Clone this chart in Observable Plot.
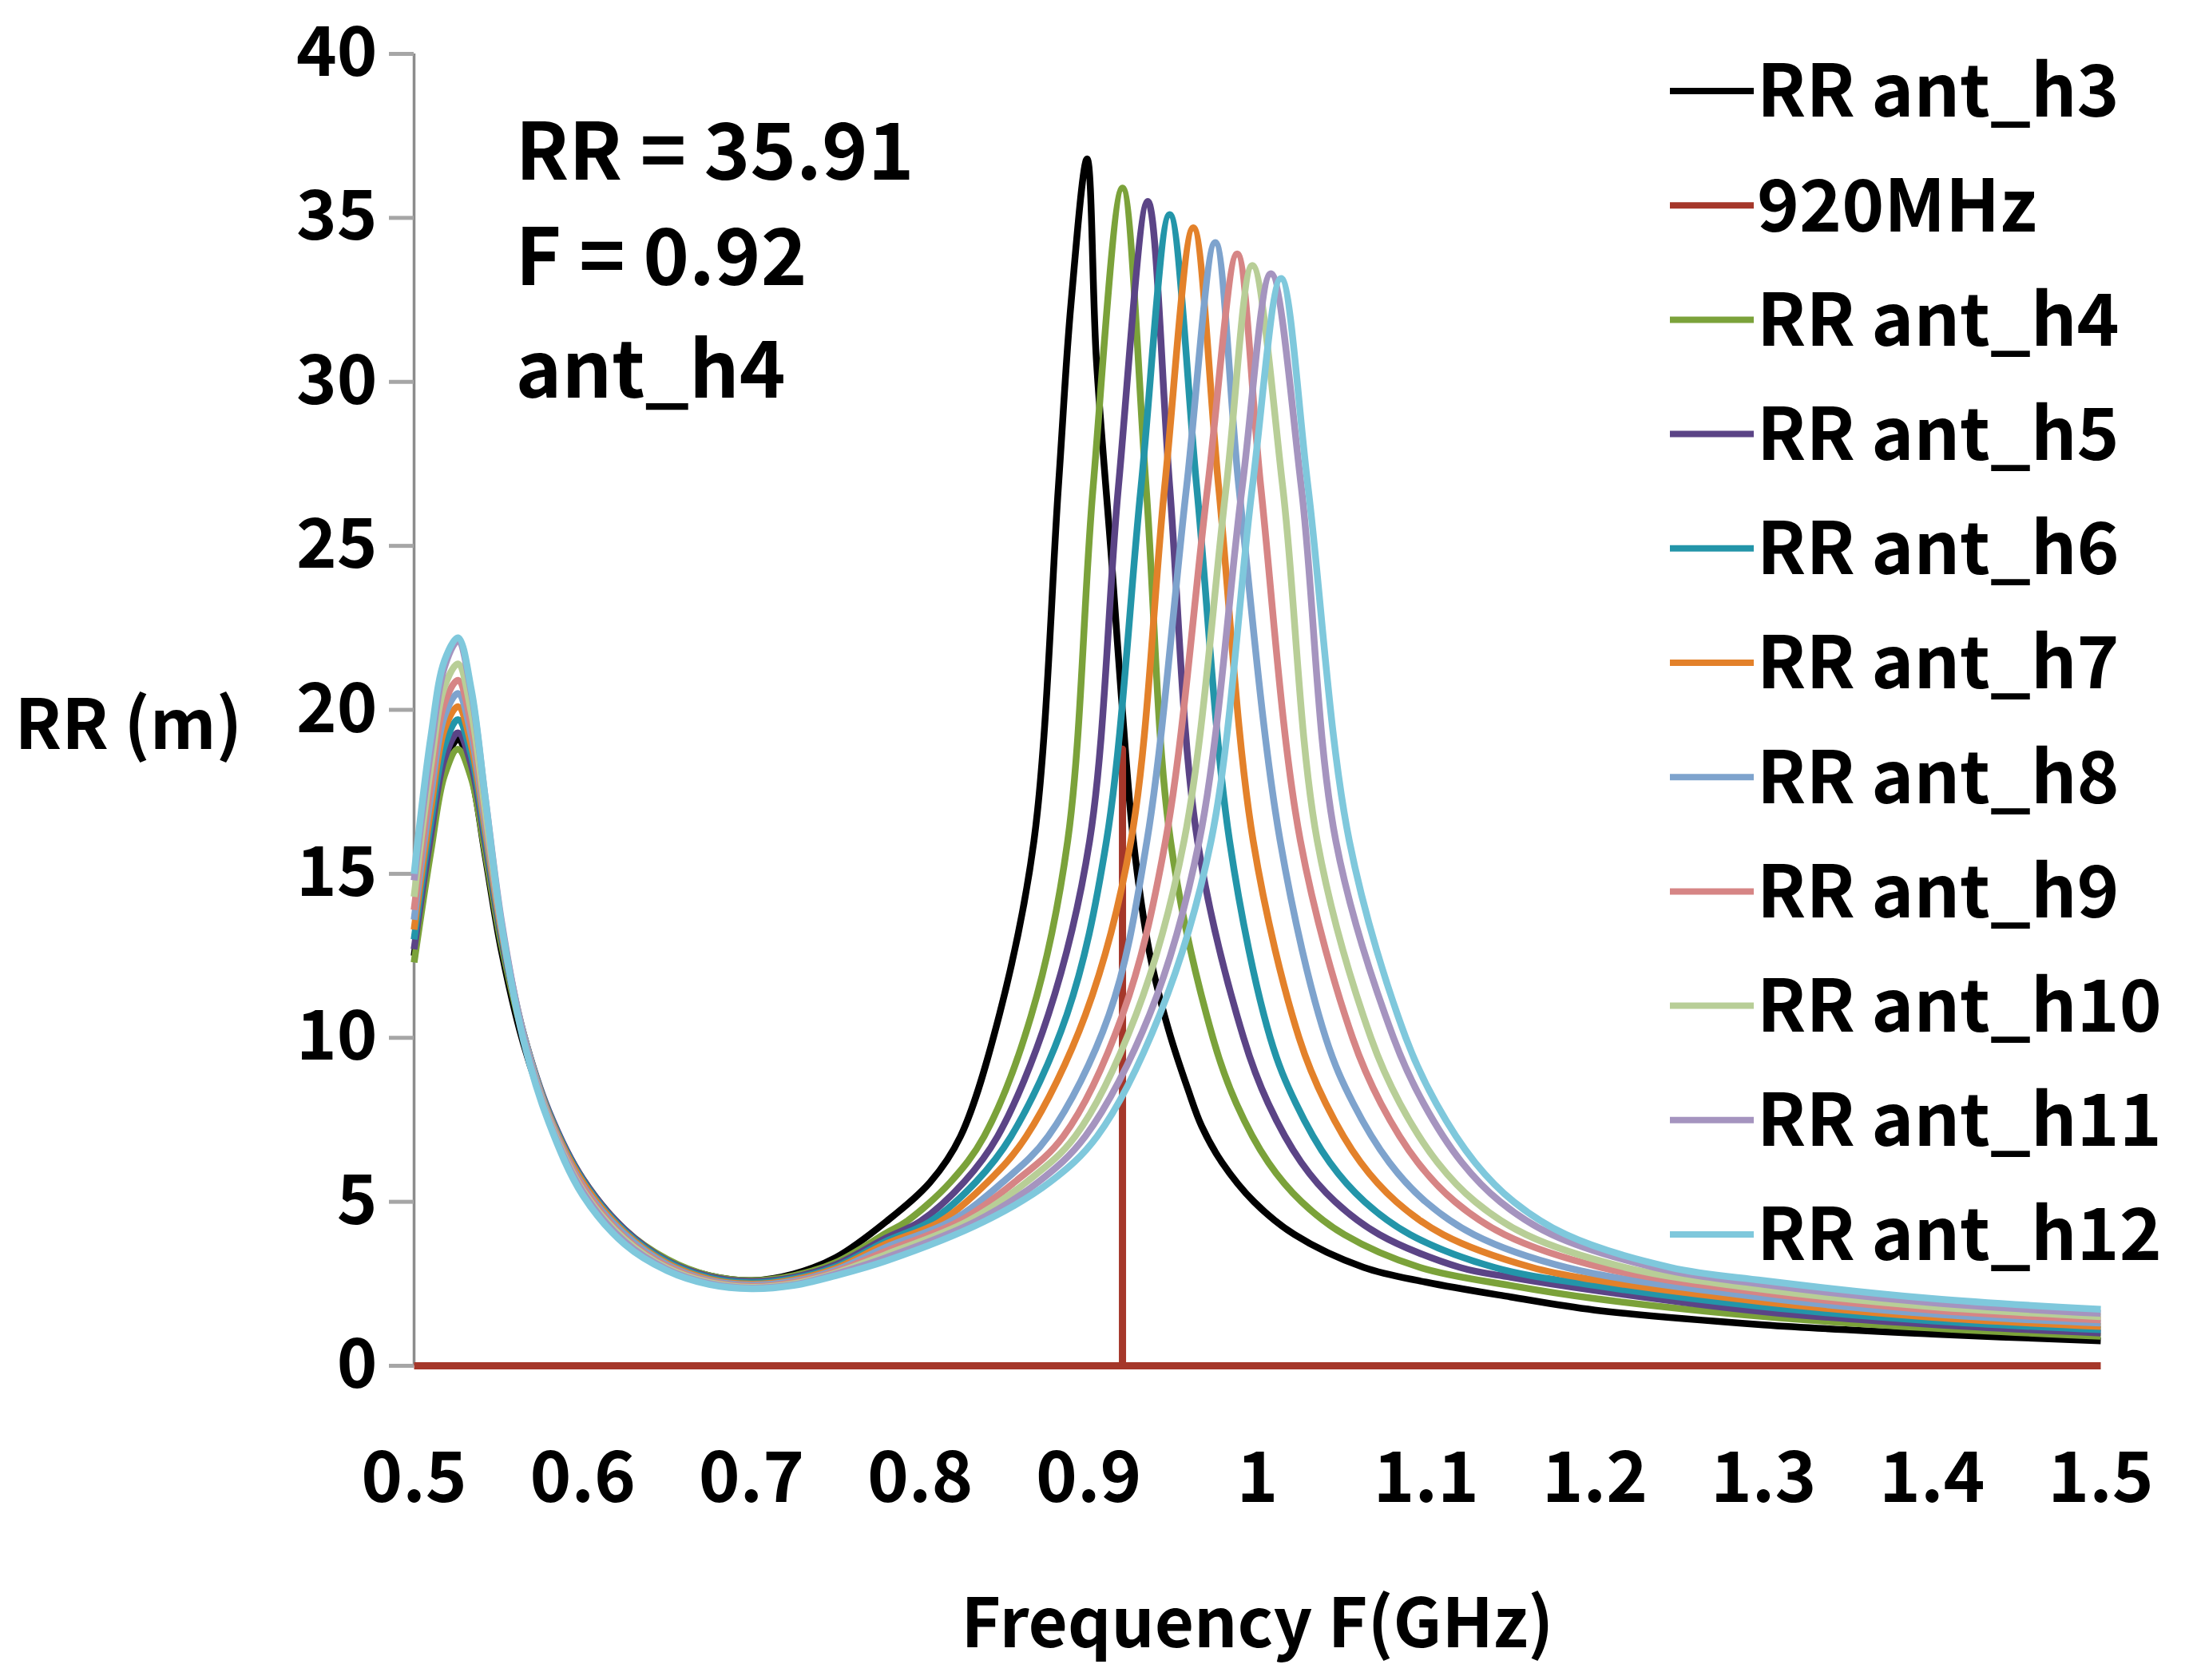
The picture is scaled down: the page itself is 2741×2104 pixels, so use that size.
<!DOCTYPE html>
<html>
<head>
<meta charset="utf-8">
<script src="https://cdn.jsdelivr.net/npm/d3@7"></script>
<script src="https://cdn.jsdelivr.net/npm/@observablehq/plot@0.6"></script>
<style>
  html, body { margin: 0; padding: 0; background: #ffffff; }
  #chart svg { display: block; }
</style>
</head>
<body>
<div id="chart"></div>
<script>
// ---------- data ----------
const seriesNames = ["RR ant_h3", "920MHz", "RR ant_h4", "RR ant_h5", "RR ant_h6", "RR ant_h7",
  "RR ant_h8", "RR ant_h9", "RR ant_h10", "RR ant_h11", "RR ant_h12"];
const seriesColors = ["#000000", "#a5372a", "#7ba23a", "#5b4486", "#2395a9", "#e3812a",
  "#7ea3cd", "#d68585", "#b8ce97", "#a594bf", "#7fc8dc"];

const xTicks = [0.5, 0.6, 0.7, 0.8, 0.9, 1.0, 1.1, 1.2, 1.3, 1.4, 1.5];
const xTickLabels = ["0.5", "0.6", "0.7", "0.8", "0.9", "1", "1.1", "1.2", "1.3", "1.4", "1.5"];
const yTicks = [0, 5, 10, 15, 20, 25, 30, 35, 40];

const annotationLines = ["RR = 35.91", "F = 0.92", "ant_h4"];

// shared low-frequency sample points (0.5 - 0.78 GHz)
const lowFreq = [0.500, 0.510, 0.518, 0.526, 0.534, 0.542, 0.552, 0.565, 0.580, 0.600, 0.625, 0.650, 0.675, 0.700, 0.725, 0.750, 0.780];

const rrLowH3  = [12.5, 16.0, 18.3, 19.1, 18.0, 15.6, 12.6, 9.8, 7.6, 5.6, 4.1, 3.2, 2.75, 2.6, 2.8, 3.3, 4.4];
const rrLowH4  = [12.3, 15.7, 18.0, 18.8, 17.9, 15.7, 12.8, 10.0, 7.7, 5.7, 4.15, 3.25, 2.75, 2.6, 2.75, 3.15, 4.05];
const rrLowH5  = [12.7, 16.2, 18.5, 19.3, 18.3, 16.0, 13.0, 10.1, 7.75, 5.7, 4.15, 3.2, 2.72, 2.57, 2.7, 3.08, 3.9];
const rrLowH6  = [13.0, 16.6, 18.9, 19.7, 18.6, 16.2, 13.1, 10.1, 7.7, 5.65, 4.1, 3.17, 2.68, 2.53, 2.66, 3.02, 3.8];
const rrLowH7  = [13.3, 17.0, 19.4, 20.1, 18.9, 16.4, 13.2, 10.1, 7.65, 5.6, 4.05, 3.12, 2.64, 2.49, 2.62, 2.97, 3.72];
const rrLowH8  = [13.6, 17.4, 19.8, 20.5, 19.2, 16.6, 13.3, 10.1, 7.6, 5.5, 4.0, 3.08, 2.6, 2.46, 2.58, 2.92, 3.62];
const rrLowH9  = [13.9, 17.8, 20.2, 20.9, 19.5, 16.8, 13.3, 10.0, 7.55, 5.45, 3.9, 3.03, 2.57, 2.42, 2.54, 2.87, 3.5];
const rrLowH10 = [14.3, 18.3, 20.7, 21.4, 19.9, 17.0, 13.4, 10.0, 7.5, 5.35, 3.85, 2.98, 2.54, 2.39, 2.5, 2.83, 3.4];
const rrLowH11 = [14.8, 18.8, 21.3, 22.1, 20.5, 17.4, 13.5, 10.0, 7.45, 5.3, 3.78, 2.94, 2.51, 2.37, 2.47, 2.8, 3.3];
const rrLowH12 = [15.0, 19.2, 21.5, 22.2, 20.6, 17.4, 13.4, 9.9, 7.4, 5.2, 3.7, 2.9, 2.48, 2.35, 2.45, 2.75, 3.2];

// resonance region and tail, per series
const freqHighH3 = [0.806, 0.824, 0.847, 0.8675, 0.882, 0.8895, 0.899, 0.9045, 0.9135, 0.9192, 0.9265, 0.936, 0.947, 0.959, 0.967, 0.979, 0.998, 1.022, 1.063, 1.1, 1.15, 1.2, 1.3, 1.4, 1.5];
const rrHighH3   = [5.6, 7.0, 10.7, 16.0, 26.8, 32.4, 36.8, 30.7, 24.6, 20.5, 16.0, 12.6, 10.3, 8.4, 7.3, 6.2, 5.0, 4.0, 3.0, 2.55, 2.1, 1.7, 1.25, 0.97, 0.76];

const freqHighH4 = [0.792, 0.818, 0.838, 0.866, 0.8875, 0.9026, 0.920, 0.934, 0.9485, 0.9736, 0.9875, 1.0065, 1.0262, 1.0515, 1.0963, 1.15, 1.2, 1.3, 1.4, 1.5];
const rrHighH4   = [4.4, 5.6, 7.0, 10.7, 16.0, 26.8, 35.91, 26.8, 16.0, 10.0, 8.0, 6.2, 5.0, 4.0, 3.0, 2.45, 2.05, 1.5, 1.15, 0.9];

const freqHighH5 = [0.800, 0.826, 0.846, 0.876, 0.9005, 0.9176, 0.935, 0.948, 0.9645, 0.9918, 1.0064, 1.026, 1.0462, 1.0724, 1.12, 1.15, 1.2, 1.3, 1.4, 1.5];
const rrHighH5   = [4.4, 5.6, 7.0, 10.7, 16.0, 26.8, 35.5, 26.8, 16.0, 10.0, 8.0, 6.2, 5.0, 4.0, 3.0, 2.7, 2.3, 1.65, 1.26, 1.0];

const freqHighH6 = [0.806, 0.833, 0.854, 0.887, 0.9105, 0.931, 0.948, 0.964, 0.9835, 1.0076, 1.0228, 1.0429, 1.0636, 1.0906, 1.1405, 1.2, 1.3, 1.4, 1.5];
const rrHighH6   = [4.4, 5.6, 7.0, 10.7, 16.0, 26.8, 35.1, 26.8, 16.0, 10.0, 8.0, 6.2, 5.0, 4.0, 3.0, 2.45, 1.8, 1.37, 1.1];

const freqHighH7 = [0.812, 0.840, 0.863, 0.898, 0.925, 0.945, 0.962, 0.977, 0.9975, 1.0247, 1.0405, 1.0612, 1.0824, 1.1102, 1.1627, 1.2, 1.3, 1.4, 1.5];
const rrHighH7   = [4.4, 5.6, 7.0, 10.7, 16.0, 26.8, 34.7, 26.8, 16.0, 10.0, 8.0, 6.2, 5.0, 4.0, 3.0, 2.62, 1.95, 1.48, 1.2];

const freqHighH8 = [0.818, 0.849, 0.876, 0.912, 0.9345, 0.958, 0.975, 0.989, 1.0135, 1.0405, 1.0568, 1.0782, 1.0998, 1.1284, 1.1833, 1.3, 1.4, 1.5];
const rrHighH8   = [4.4, 5.6, 7.0, 10.7, 16.0, 26.8, 34.25, 26.8, 16.0, 10.0, 8.0, 6.2, 5.0, 4.0, 3.0, 2.08, 1.58, 1.3];

const freqHighH9 = [0.823, 0.856, 0.885, 0.920, 0.9455, 0.9705, 0.988, 1.002, 1.0255, 1.0564, 1.0732, 1.0951, 1.1172, 1.1466, 1.2039, 1.3, 1.4, 1.5];
const rrHighH9   = [4.4, 5.6, 7.0, 10.7, 16.0, 26.8, 33.9, 26.8, 16.0, 10.0, 8.0, 6.2, 5.0, 4.0, 3.0, 2.22, 1.7, 1.4];

const freqHighH10 = [0.828, 0.863, 0.892, 0.928, 0.9565, 0.9815, 0.997, 1.015, 1.0355, 1.0673, 1.0845, 1.1068, 1.1292, 1.1592, 1.2181, 1.3, 1.4, 1.5];
const rrHighH10   = [4.4, 5.6, 7.0, 10.7, 16.0, 26.8, 33.55, 26.8, 16.0, 10.0, 8.0, 6.2, 5.0, 4.0, 3.0, 2.33, 1.8, 1.5];

const freqHighH11 = [0.833, 0.870, 0.898, 0.936, 0.9655, 0.991, 1.008, 1.026, 1.0465, 1.0807, 1.0985, 1.1212, 1.144, 1.1746, 1.2355, 1.3, 1.4, 1.5];
const rrHighH11   = [4.4, 5.6, 7.0, 10.7, 16.0, 26.8, 33.3, 26.8, 16.0, 10.0, 8.0, 6.2, 5.0, 4.0, 3.0, 2.48, 1.92, 1.6];

const freqHighH12 = [0.838, 0.877, 0.905, 0.942, 0.9725, 0.997, 1.014, 1.030, 1.0545, 1.088, 1.106, 1.129, 1.152, 1.183, 1.245, 1.3, 1.4, 1.5];
const rrHighH12   = [4.4, 5.6, 7.0, 10.7, 16.0, 26.8, 33.15, 26.8, 16.0, 10.0, 8.0, 6.2, 5.0, 4.0, 3.0, 2.6, 2.05, 1.72];

// 920 MHz marker series
const freq920 = [0.5, 0.92, 0.92, 0.92, 1.5];
const rr920   = [0, 0, 18.8, 0, 0];

// ---------- build rows ----------
const rrSeries = [
  [rrLowH3, freqHighH3, rrHighH3],
  null,
  [rrLowH4, freqHighH4, rrHighH4],
  [rrLowH5, freqHighH5, rrHighH5],
  [rrLowH6, freqHighH6, rrHighH6],
  [rrLowH7, freqHighH7, rrHighH7],
  [rrLowH8, freqHighH8, rrHighH8],
  [rrLowH9, freqHighH9, rrHighH9],
  [rrLowH10, freqHighH10, rrHighH10],
  [rrLowH11, freqHighH11, rrHighH11],
  [rrLowH12, freqHighH12, rrHighH12]
];

const seriesRows = seriesNames.map((name, i) => {
  if (rrSeries[i] === null) {
    return freq920.map((f, j) => ({series: name, f, rr: rr920[j]}));
  }
  const [low, fHigh, rHigh] = rrSeries[i];
  const fs = lowFreq.concat(fHigh);
  const rs = low.concat(rHigh);
  return fs.map((f, j) => ({series: name, f, rr: rs[j]}));
});

// ---------- layout ----------
const W = 2741, H = 2104;
const mL = 518, mR = 111, mT = 67, mB = 394;
const FONT = "'Noto Sans CJK KR', 'Noto Sans', sans-serif";

const lineMarks = seriesRows.map((rows, i) => Plot.line(rows, {
  x: "f", y: "rr",
  stroke: seriesColors[i],
  strokeWidth: i === 1 ? 9 : 8.5,
  curve: i === 1 ? "linear" : "catmull-rom",
  strokeLinejoin: "round",
  strokeLinecap: "butt"
}));

const chart = Plot.plot({
  width: W, height: H,
  marginLeft: mL, marginRight: mR, marginTop: mT, marginBottom: mB,
  style: {fontFamily: FONT, fontWeight: 700, background: "#ffffff", color: "#000000", overflow: "visible"},
  x: {domain: [0.5, 1.5]},
  y: {domain: [0, 40]},
  marks: [
    // y axis line & ticks
    Plot.ruleX([0.5], {y1: 0, y2: 40, stroke: "#8c8c8c", strokeWidth: 3.5}),
    Plot.axisY({ticks: yTicks, tickSize: 31, tickPadding: 15, fontSize: 86,
      stroke: "#a6a6a6", strokeWidth: 5, fill: "#000000", label: null}),
    Plot.axisX({ticks: xTicks, tickSize: 0, tickPadding: 108, fontSize: 88,
      tickFormat: d => xTickLabels[xTicks.indexOf(d)], fill: "#000000", label: null}),
    ...lineMarks,
    // annotation block
    ...annotationLines.map((t, i) => Plot.text([t], {
      frameAnchor: "top-left", dx: 127, dy: [126, 258, 399][i],
      textAnchor: "start", lineAnchor: "middle", fontSize: 98, fill: "#000000"
    })),
    // axis titles
    Plot.text(["RR (m)"], {frameAnchor: "top-left", dx: -500, dy: 843,
      textAnchor: "start", lineAnchor: "middle", fontSize: 86, fill: "#000000"}),
    Plot.text(["Frequency F(GHz)"], {frameAnchor: "bottom", dy: 325,
      textAnchor: "middle", lineAnchor: "middle", fontSize: 85, fill: "#000000"})
  ]
});

document.getElementById("chart").appendChild(chart);

// ---------- legend (overlaid at right) ----------
const svg = d3.select(chart);
const leg = svg.append("g")
  .attr("font-family", FONT).attr("font-weight", 700).attr("font-size", 90)
  .attr("text-anchor", "start");
const rowY0 = 114, rowStep = 143.2;
seriesNames.forEach((name, i) => {
  const y = rowY0 + i * rowStep;
  leg.append("line")
    .attr("x1", 2091).attr("x2", 2196).attr("y1", y).attr("y2", y)
    .attr("stroke", seriesColors[i]).attr("stroke-width", 8);
  leg.append("text")
    .attr("x", 2200).attr("y", y).attr("dy", "0.36em")
    .attr("text-anchor", "start")
    .attr("fill", "#000000").text(name);
});
</script>
</body>
</html>
